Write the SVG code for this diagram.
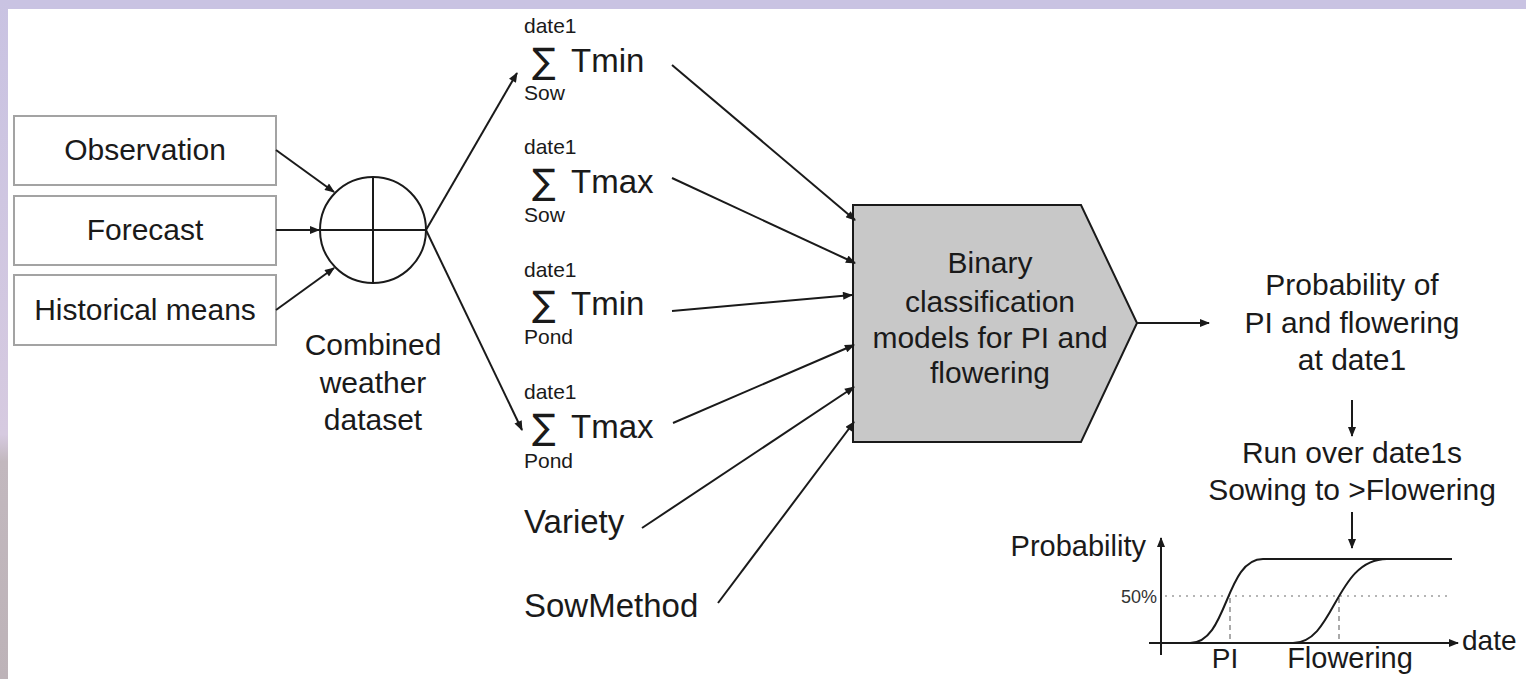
<svg xmlns="http://www.w3.org/2000/svg" width="1526" height="679" viewBox="0 0 1526 679">
<style>
text{font-family:"Liberation Sans",Arial,"DejaVu Sans",sans-serif;fill:#1a1a1a}
.lbl{font-size:30px;text-anchor:middle}
.big{font-size:33px}
.sm{font-size:21px}
.sig{font-family:"DejaVu Sans","Liberation Sans",sans-serif;font-size:35px}
.box{fill:#fff;stroke:#a3a3a3;stroke-width:2}
.ln{fill:none;stroke:#1a1a1a;stroke-width:2}
.arr{fill:none;stroke:#1a1a1a;stroke-width:2;marker-end:url(#ah)}
.dash{fill:none;stroke:#aaa;stroke-width:2;stroke-dasharray:5 4}
.dot{fill:none;stroke:#b5b5b5;stroke-width:2;stroke-dasharray:2 5}
</style>
<defs>
<marker id="ah" viewBox="0 0 10 8" refX="9" refY="4" markerWidth="11" markerHeight="8" markerUnits="userSpaceOnUse" orient="auto">
<path d="M0,0 L10,4 L0,8 Z" fill="#1a1a1a"/>
</marker>
<linearGradient id="lb" x1="0" y1="0" x2="0" y2="1">
<stop offset="0" stop-color="#c9c3e2"/>
<stop offset="0.64" stop-color="#d6cae0"/>
<stop offset="0.68" stop-color="#c2b8be"/>
<stop offset="1" stop-color="#bdb3b8"/>
</linearGradient>
</defs>
<rect x="0" y="0" width="1526" height="679" fill="#fff"/>
<rect x="0" y="0" width="1526" height="9" fill="#c9c3e2"/>
<rect x="0" y="0" width="8" height="679" fill="url(#lb)"/>

<g id="observation"><rect class="box" x="14" y="116" width="262" height="69"/><text class="lbl" x="145" y="160">Observation</text></g>
<g id="forecast"><rect class="box" x="14" y="196" width="262" height="69"/><text class="lbl" x="145" y="240">Forecast</text></g>
<g id="historical"><rect class="box" x="14" y="275" width="262" height="70"/><text class="lbl" x="145" y="320">Historical means</text></g>

<g id="combiner">
<circle class="ln" cx="373" cy="230" r="53"/>
<line class="ln" x1="320" y1="230" x2="426" y2="230"/>
<line class="ln" x1="373" y1="177" x2="373" y2="283"/>
<text class="lbl" x="373" y="355">Combined</text>
<text class="lbl" x="373" y="393">weather</text>
<text class="lbl" x="373" y="430">dataset</text>
</g>

<g id="tmin-sow"><text class="sm" x="524" y="33">date1</text><text class="sig" x="532" y="73">∑</text><text class="big" x="571" y="72">Tmin</text><text class="sm" x="524" y="100">Sow</text></g>
<g id="tmax-sow"><text class="sm" x="524" y="154">date1</text><text class="sig" x="532" y="194">∑</text><text class="big" x="571" y="193">Tmax</text><text class="sm" x="524" y="222">Sow</text></g>
<g id="tmin-pond"><text class="sm" x="524" y="277">date1</text><text class="sig" x="532" y="316">∑</text><text class="big" x="571" y="315">Tmin</text><text class="sm" x="524" y="344">Pond</text></g>
<g id="tmax-pond"><text class="sm" x="524" y="399">date1</text><text class="sig" x="532" y="439">∑</text><text class="big" x="571" y="438">Tmax</text><text class="sm" x="524" y="468">Pond</text></g>
<g id="variety"><text class="big" x="524" y="533">Variety</text></g>
<g id="sowmethod"><text class="big" x="524" y="617">SowMethod</text></g>

<g id="model">
<path d="M853,205 L1081,205 L1137,323 L1081,442 L853,442 Z" fill="#c8c8c8" stroke="#1a1a1a" stroke-width="2"/>
<text class="lbl" x="990" y="273">Binary</text>
<text class="lbl" x="990" y="312">classification</text>
<text class="lbl" x="990" y="348">models for PI and</text>
<text class="lbl" x="990" y="383">flowering</text>
</g>

<g id="probability"><text class="lbl" x="1352" y="295">Probability of</text><text class="lbl" x="1352" y="333">PI and flowering</text><text class="lbl" x="1352" y="370">at date1</text></g>
<g id="run"><text class="lbl" x="1352" y="463">Run over date1s</text><text class="lbl" x="1352" y="500">Sowing to &gt;Flowering</text></g>

<g id="chart">
<line class="arr" x1="1161" y1="655" x2="1161" y2="538"/>
<line class="arr" x1="1149" y1="643" x2="1458" y2="643"/>
<line class="dot" x1="1165" y1="596" x2="1448" y2="596"/>
<line class="dash" x1="1230" y1="598" x2="1230" y2="641"/>
<line class="dash" x1="1339" y1="598" x2="1339" y2="641"/>
<path class="ln" d="M1190,643 C1228,643 1225,559 1263,559 L1452,559"/>
<path class="ln" d="M1293,643 C1335,643 1335,559 1387,559"/>
<text x="1146" y="556" style="font-size:29px;text-anchor:end">Probability</text>
<text x="1157" y="603" style="font-size:18px;text-anchor:end;fill:#333">50%</text>
<text x="1225" y="668" style="font-size:28px;text-anchor:middle">PI</text>
<text x="1350" y="668" style="font-size:29px;text-anchor:middle">Flowering</text>
<text x="1462" y="650" style="font-size:28px">date</text>
</g>

<g id="connectors">
<line class="arr" x1="276" y1="150" x2="334" y2="192"/>
<line class="arr" x1="276" y1="230" x2="319" y2="230"/>
<line class="arr" x1="276" y1="310" x2="334" y2="268"/>
<line class="arr" x1="426" y1="230" x2="517" y2="73"/>
<line class="arr" x1="426" y1="230" x2="522" y2="430"/>
<line class="arr" x1="672" y1="65" x2="855" y2="220"/>
<line class="arr" x1="672" y1="178" x2="855" y2="263"/>
<line class="arr" x1="672" y1="311" x2="852" y2="295"/>
<line class="arr" x1="673" y1="423" x2="854" y2="345"/>
<line class="arr" x1="642" y1="528" x2="854" y2="387"/>
<line class="arr" x1="718" y1="603" x2="854" y2="422"/>
<line class="arr" x1="1137" y1="323" x2="1209" y2="323"/>
<line class="arr" x1="1352" y1="400" x2="1352" y2="436"/>
<line class="arr" x1="1352" y1="512" x2="1352" y2="548"/>
</g>
</svg>
